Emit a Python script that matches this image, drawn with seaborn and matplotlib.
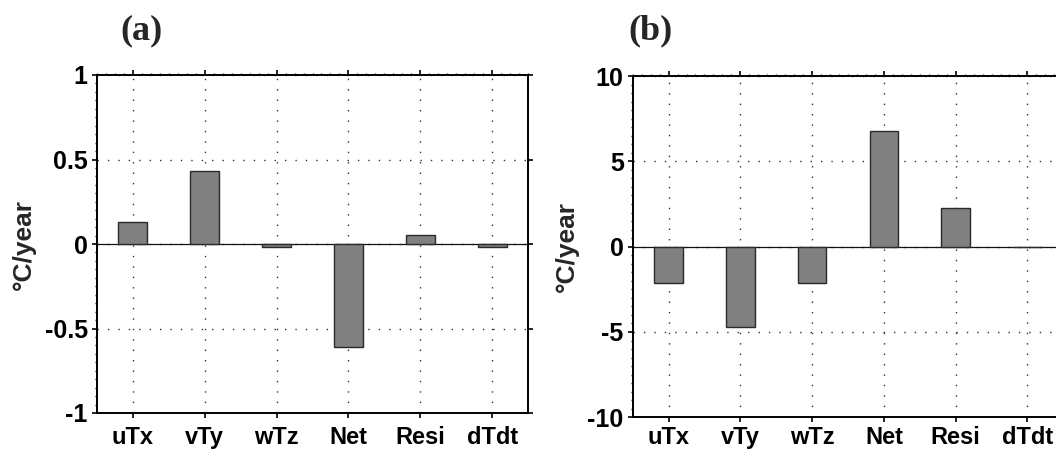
import matplotlib
matplotlib.use("Agg")
import matplotlib.pyplot as plt
from matplotlib.ticker import MultipleLocator, FixedLocator
import seaborn as sns
import pandas as pd

# Heat budget terms (°C/year)
terms = ["uTx", "vTy", "wTz", "Net", "Resi", "dTdt"]
values_a = [0.13, 0.433, -0.016, -0.61, 0.053, -0.015]
values_b = [-2.13, -4.72, -2.13, 6.75, 2.26, 0.0]

yticks_a = [-1, -0.5, 0, 0.5, 1]
ylabels_a = ["-1", "-0.5", "0", "0.5", "1"]
yticks_b = [-10, -5, 0, 5, 10]
ylabels_b = ["-10", "-5", "0", "5", "10"]

sns.set_theme(style="ticks")
plt.rcParams["font.family"] = ["Liberation Sans", "DejaVu Sans"]
plt.rcParams["font.weight"] = "bold"

W, H = 1056, 453
fig = plt.figure(figsize=(W / 100, H / 100), dpi=100)
fig.patch.set_facecolor("white")


def px_axes(left, top, right, bottom):
    return fig.add_axes([left / W, 1 - bottom / H, (right - left) / W, (bottom - top) / H])


ax_a = px_axes(96.7, 75, 528.3, 413)
ax_b = px_axes(632.7, 76, 1063.3, 417.3)

dots = (0, (1.0, 6.5))


def draw_panel(ax, values, yticks, ylabels, minor_step, tag, tag_x, xpad):
    df = pd.DataFrame({"term": terms, "value": values})
    sns.barplot(data=df, x="term", y="value", order=terms, color="#808080",
                saturation=1, width=0.4, edgecolor="#2a2a2a", linewidth=1.0,
                ax=ax, zorder=3)
    ax.set_xlim(-0.5, len(terms) - 0.5)
    ax.set_ylim(yticks[0], yticks[-1])
    ax.axhline(0, color="#111111", lw=0.9, zorder=2)

    ax.yaxis.set_major_locator(FixedLocator(yticks))
    ax.set_yticklabels(ylabels)
    ax.yaxis.set_minor_locator(MultipleLocator(minor_step))
    ax.xaxis.set_minor_locator(MultipleLocator(0.125))

    ax.grid(True, which="major", axis="both", linestyle=dots,
            color="#333333", lw=1.0, zorder=1)
    ax.set_axisbelow(True)

    for s in ax.spines.values():
        s.set_visible(True)
        s.set_linewidth(1.4)
        s.set_color("black")

    ax.tick_params(which="major", direction="out", length=3.5, width=1.2,
                   left=True, right=True, top=True, bottom=True,
                   colors="black")
    ax.tick_params(axis="x", which="major", pad=xpad, labelsize=17)
    ax.tick_params(axis="y", which="major", pad=3, labelsize=18)
    ax.tick_params(which="minor", direction="out", length=1.8, width=1.0,
                   left=True, right=False, top=True, bottom=False)
    ax.tick_params(axis="x", which="minor", bottom=False, top=True)
    ax.tick_params(axis="y", which="minor", left=True, right=False)

    for lab in ax.get_xticklabels() + ax.get_yticklabels():
        lab.set_fontweight("bold")

    ax.set_xlabel("")
    ax.set_ylabel("°C/year", fontsize=19, fontweight="bold", labelpad=6)
    ax.set_facecolor("white")

    fig.text(tag_x / W, 1 - 31 / H, tag, ha="center", va="center",
             fontsize=26, fontweight="bold", family="Liberation Serif")


draw_panel(ax_a, values_a, yticks_a, ylabels_a, 0.05, "(a)", 141, 6)
draw_panel(ax_b, values_b, yticks_b, ylabels_b, 0.5, "(b)", 651, 3)

fig.savefig("out.png", dpi=100, facecolor="white")
